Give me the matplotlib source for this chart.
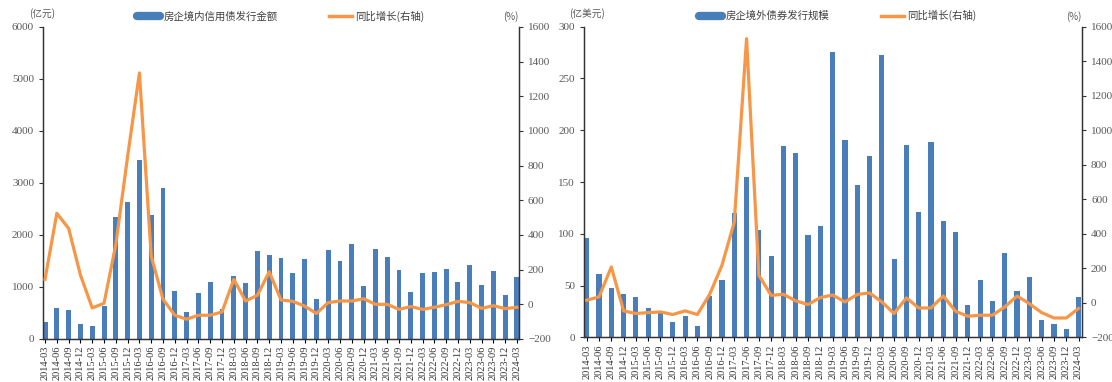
import matplotlib.pyplot as plt
from matplotlib.lines import Line2D

plt.rcParams['font.family'] = ['Liberation Serif', 'Noto Sans CJK SC', 'DejaVu Sans']

# Quarterly labels 2014-03 .. 2024-03
quarters = [f'{y}-{m}' for y in range(2014, 2025) for m in ('03', '06', '09', '12')][:41]

# Onshore credit bond issuance (100m CNY) and YoY growth (%)
onshore_amt = [320, 590, 550, 290, 250, 640, 2350, 2630, 3450, 2390, 2900, 930,
               510, 880, 1090, 570, 1220, 1070, 1700, 1620, 1560, 1260, 1540, 760,
               1720, 1500, 1820, 1010, 1730, 1570, 1330, 900, 1260, 1290, 1350, 1090,
               1420, 1030, 1300, 850, 1200]
onshore_yoy = [145, 525, 438, 169, -21, 6, 346, 853, 1335, 278, 29, -63,
               -86, -63, -63, -44, 144, 19, 52, 188, 25, 17, -10, -53,
               10, 19, 19, 32, 0, 0, -29, -13, -29, -17, -2, 17,
               10, -23, -8, -25, -17]

# Offshore bond issuance (100m USD) and YoY growth (%)
offshore_amt = [96, 61, 48, 42, 39, 28, 25, 15, 21, 11, 40, 55,
                120, 155, 104, 79, 185, 178, 99, 108, 275, 191, 147, 175,
                273, 76, 186, 121, 189, 112, 102, 31, 55, 35, 82, 45,
                58, 17, 13, 8, 39]
offshore_yoy = [16, 35, 208, -46, -61, -56, -52, -67, -46, -67, 50, 218,
                469, 1530, 160, 44, 50, 12, -9, 31, 46, 6, 49, 58,
                6, -61, 29, -29, -29, 40, -48, -77, -71, -71, -23, 40,
                -4, -56, -87, -87, -32]

BLUE = '#4a7ebb'
ORANGE = '#f79646'
GREY = '#595959'
CJK = ['Noto Sans CJK SC', 'DejaVu Sans']

fig = plt.figure(figsize=(11.12, 3.82), dpi=100)


def panel(rect, amt, yoy, ymax, ystep, xlim, bar_label, unit, legend_x):
    ax = fig.add_axes(rect)
    x = list(range(len(quarters)))
    ax.bar(x, amt, width=0.42, color=BLUE, zorder=2)
    ax.set_ylim(0, ymax)
    ax.set_yticks(range(0, ymax + 1, ystep))
    ax.set_xlim(*xlim)
    ax.set_xticks(x)
    ax.set_xticklabels(quarters, rotation=90, fontsize=7.5, color='#333333')

    ax2 = ax.twinx()
    ax2.plot(x, yoy, color=ORANGE, lw=2.3, zorder=3)
    ax2.set_ylim(-200, 1600)
    ax2.set_yticks(range(-200, 1601, 200))
    ax2.set_xlim(*xlim)

    for a in (ax, ax2):
        a.spines['top'].set_visible(False)
        for s in ('left', 'right', 'bottom'):
            a.spines[s].set_color('#333333')
            a.spines[s].set_linewidth(0.9)
        a.tick_params(axis='y', labelsize=8, colors='#333333', labelcolor=GREY,
                      length=3, width=0.8)
    ax.tick_params(axis='x', length=3, width=0.8, pad=2)

    ax.text(-0.03, 1.025, unit, transform=ax.transAxes, fontsize=7,
            family=CJK, color=GREY, ha='left', va='bottom')
    ax2.text(1.0, 1.015, '(%)', transform=ax2.transAxes, fontsize=7,
             family=CJK, color=GREY, ha='right', va='bottom')

    handles = [Line2D([], [], color=BLUE, lw=6, solid_capstyle='round'),
               Line2D([], [], color=ORANGE, lw=2.5)]
    leg = ax.legend(handles, [bar_label, '同比增长(右轴)'], ncol=2,
                    loc='center', bbox_to_anchor=(legend_x, 1.035),
                    frameon=False, handlelength=2.2, handletextpad=0.3,
                    columnspacing=5.0, prop={'family': CJK, 'size': 7.5})
    for t in leg.get_texts():
        t.set_color('#404040')
    return ax, ax2


panel([0.0387, 0.1126, 0.428, 0.8168], onshore_amt, onshore_yoy, 6000, 1000,
      (-0.17, 40.17), '房企境内信用债发行金额', '(亿元)', 0.5)
panel([0.5252, 0.1165, 0.4478, 0.814], offshore_amt, offshore_yoy, 300, 50,
      (-0.22, 40.28), '房企境外债券发行规模', '(亿美元)', 0.51)

fig.savefig('out.png', dpi=100)
